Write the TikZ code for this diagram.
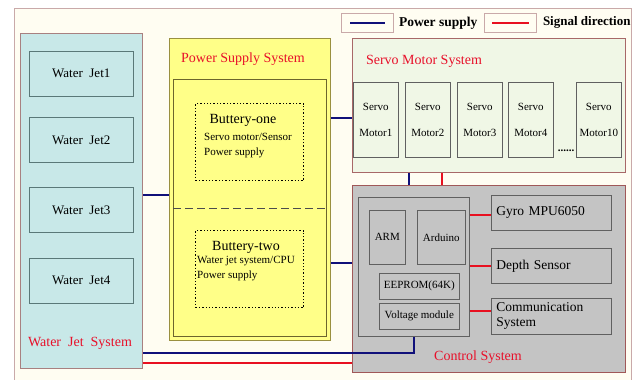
\documentclass[tikz,border=0pt]{standalone}
\usepackage{fontspec}
\setmainfont{Liberation Serif}
\usetikzlibrary{positioning,calc}
\definecolor{framefill}{HTML}{FFFDF2}
\definecolor{frameline}{HTML}{C9A9A9}
\definecolor{jetfill}{HTML}{C8E8E8}
\definecolor{jetsysline}{HTML}{A88080}
\definecolor{jetline}{HTML}{5A7878}
\definecolor{psfill}{HTML}{FFFF88}
\definecolor{psline}{HTML}{9A9040}
\definecolor{servofill}{HTML}{F0F7E6}
\definecolor{servoline}{HTML}{A86868}
\definecolor{ctrlfill}{HTML}{C4C4C4}
\definecolor{ctrlline}{HTML}{A05858}
\definecolor{unitline}{HTML}{606060}
\definecolor{titlered}{HTML}{E8102A}
\definecolor{pwrblue}{HTML}{10107A}
\definecolor{sigred}{HTML}{E81020}

\begin{document}
\begin{tikzpicture}[x=1pt,y=-1pt,
    font=\fontsize{11}{15}\selectfont,
    sysbox/.style={draw,line width=0.8pt,anchor=north west,inner sep=0pt},
    unit/.style={draw=unitline,line width=0.6pt,anchor=north west,inner sep=0pt,
                 align=center},
    battery/.style={draw=black,dotted,line width=1.3pt,anchor=north west,inner sep=0pt,
                    minimum width=108pt,minimum height=77pt},
    title/.style={text=titlered,font=\fontsize{14}{16}\selectfont},
    big/.style={font=\fontsize{13.5}{15}\selectfont},
    legbox/.style={draw=frameline,line width=0.8pt,fill=framefill,anchor=north west,
                   minimum width=52pt,minimum height=19pt,inner sep=0pt},
    pwr/.style={draw=pwrblue,line width=2.2pt},
    sig/.style={draw=sigred,line width=2.2pt}]
  \useasboundingbox (0,0) rectangle (638,380);
  \fill[white] (0,0) rectangle (638,380);
  \draw[frameline,fill=framefill,line width=0.8pt] (14,8) rectangle (631,392);

  % legend
  \node[legbox] (legpwr) at (341,13) {};
  \draw[pwr] ([xshift=9pt]legpwr.west) -- ([xshift=-9pt]legpwr.east);
  \node[font=\bfseries\fontsize{13.5}{15}\selectfont,right=5pt of legpwr,inner sep=0pt] (legpwrtxt) {Power supply};
  \node[legbox] (legsig) at (484,13) {};
  \draw[sig] ([xshift=8pt]legsig.west) -- ([xshift=-8pt]legsig.east);
  \node[font=\bfseries\fontsize{13}{15}\selectfont,right=6pt of legsig,inner sep=0pt] (legsigtxt) {Signal direction};

  % water jet system
  \node[sysbox,draw=jetsysline,fill=jetfill,minimum width=122pt,minimum height=335pt] (watersys) at (20,33) {};
  \foreach \i/\y in {1/51,2/117,3/187,4/258}
    \node[unit,draw=jetline,fill=jetfill,minimum width=104pt,minimum height=45pt,
          font=\fontsize{13}{14}\selectfont] (jet\i) at (29,\y) {Water\enspace Jet\i};
  \node[title] (jettitle) at (80,343) {Water\enspace Jet\enspace System};

  % power supply system
  \node[sysbox,draw=psline,fill=psfill,minimum width=161pt,minimum height=302pt] (powersys) at (169,38) {};
  \node[title] (pstitle) at (243,59) {Power Supply System};
  \node[sysbox,draw=psline!70!black,fill=psfill,minimum width=153pt,minimum height=257pt] (powerin) at (173,79) {};
  \draw[gray!60!black,dash pattern=on 8pt off 4pt,line width=0.7pt] (powerin.west |- 0,208) -- (powerin.east |- 0,208);
  \node[battery] (bat1) at (195,103) {};
  \node[font=\fontsize{14}{16}\selectfont] (bat1name) at (243,120) {Buttery-one};
  \node[anchor=north west,align=left,inner sep=0pt] (bat1txt) at (204,133) {Servo motor/Sensor\\Power supply};
  \node[battery] (bat2) at (195,230) {};
  \node[font=\fontsize{14}{16}\selectfont] (bat2name) at (246,247) {Buttery-two};
  \node[anchor=north west,align=left,inner sep=0pt] (bat2txt) at (197,256) {Water jet system/CPU\\Power supply};

  % servo motor system
  \node[sysbox,draw=servoline,fill=servofill,minimum width=273pt,minimum height=134pt] (servosys) at (352,38) {};
  \node[title] (servotitle) at (424,61) {Servo Motor System};
  \foreach \i/\x in {1/353,2/405,3/457,4/508,10/576}
    \node[unit,fill=servofill,minimum width=45pt,minimum height=75pt] (motor\i) at (\x,82) {Servo\\[11pt]Motor\i};
  \node[font=\bfseries\fontsize{11}{11}\selectfont,inner sep=0pt] (dots) at (566,151) {......};

  % control system
  \node[sysbox,draw=ctrlline,fill=ctrlfill,minimum width=273pt,minimum height=187pt] (ctrlsys) at (352,185) {};
  \node[title] (ctrltitle) at (478,357) {Control System};
  \node[unit,fill=ctrlfill,minimum width=111pt,minimum height=139pt] (mcu) at (358,197) {};
  \node[unit,fill=ctrlfill,minimum width=36pt,minimum height=54pt] (arm) at (369,210) {ARM};
  \node[unit,fill=ctrlfill,minimum width=48pt,minimum height=54pt] (arduino) at (417,210) {Arduino};
  \node[unit,fill=ctrlfill,minimum width=80pt,minimum height=26pt] (eeprom) at (379,273) {EEPROM(64K)};
  \node[unit,fill=ctrlfill,minimum width=80pt,minimum height=26pt] (volt) at (379,303) {Voltage module};
  \node[unit,big,fill=ctrlfill,align=left,text width=110pt,minimum width=120pt,minimum height=35pt] (gyro) at (491,195) {Gyro MPU6050};
  \node[unit,big,fill=ctrlfill,align=left,text width=110pt,minimum width=120pt,minimum height=35pt] (depth) at (491,248) {Depth Sensor};
  \node[unit,big,fill=ctrlfill,align=left,text width=110pt,minimum width=120pt,minimum height=36pt] (comm) at (491,298) {Communication\\System};

  % connections
  \draw[pwr] (watersys.east |- 0,195) -- (powersys.west |- 0,195);
  \draw[pwr] (powersys.east |- 0,118) -- (servosys.west |- 0,118);
  \draw[pwr] (powersys.east |- 0,263) -- (ctrlsys.west |- 0,263);
  \draw[pwr] (servosys.south -| 409,0) -- (ctrlsys.north -| 409,0);
  \draw[sig] (servosys.south -| 442,0) -- (ctrlsys.north -| 442,0);
  \draw[pwr] (watersys.east |- 0,353) -| (mcu.south);
  \draw[sig] (watersys.east |- 0,363) -- (ctrlsys.west |- 0,363);
  \draw[sig] (mcu.east |- 0,215) -- (gyro.west |- 0,215);
  \draw[sig] (mcu.east |- depth) -- (depth);
  \draw[sig] (mcu.east |- 0,311) -- (comm.west |- 0,311);
\end{tikzpicture}
\end{document}
